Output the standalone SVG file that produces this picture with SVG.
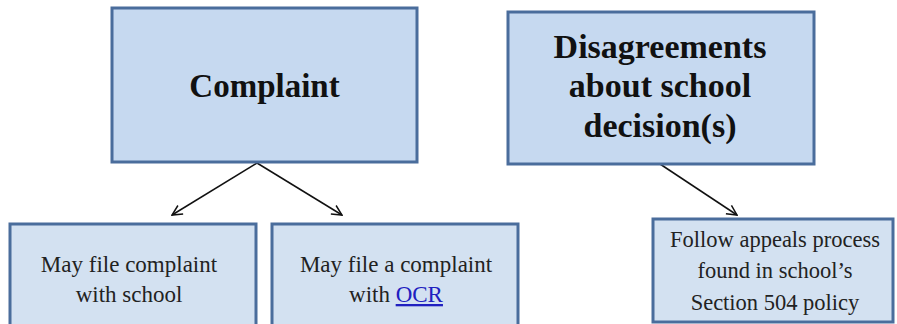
<svg xmlns="http://www.w3.org/2000/svg" width="897" height="324" viewBox="0 0 897 324">
<defs>
<style>
.top{fill:#c6d9f0;stroke:#4a6d9c;stroke-width:3}
.low{fill:#d3e1f1;stroke:#4a6d9c;stroke-width:3}
.h{font-family:"Liberation Serif",serif;font-weight:bold;font-size:33px;fill:#111;text-anchor:middle}
.b{font-family:"Liberation Serif",serif;font-size:23px;fill:#222;text-anchor:middle}
.lnk{fill:#2020c0;text-decoration:underline}
.c{stroke:#111;stroke-width:1.5;fill:none;marker-end:url(#ah)}
</style>
<marker id="ah" viewBox="0 0 12 12" refX="11" refY="6" markerWidth="12" markerHeight="12" markerUnits="userSpaceOnUse" orient="auto">
<path d="M1,1 L11,6 L1,11" fill="none" stroke="#111" stroke-width="1.5"/>
</marker>
</defs>
<g id="connectors">
<line class="c" x1="257" y1="163" x2="172" y2="215"/>
<line class="c" x1="257" y1="163" x2="342" y2="215"/>
<line class="c" x1="660" y1="164" x2="737" y2="215"/>
</g>
<g id="complaint">
<rect class="top" x="112" y="8" width="305" height="154"/>
<text class="h" x="264.5" y="97">Complaint</text>
</g>
<g id="disagreements">
<rect class="top" x="508" y="12" width="306" height="152"/>
<text class="h" x="660" y="58" style="font-size:34px">Disagreements</text>
<text class="h" x="660" y="97" style="font-size:34px">about school</text>
<text class="h" x="660" y="137" style="font-size:34px">decision(s)</text>
</g>
<g id="file-school">
<rect class="low" x="10" y="224" width="246" height="110"/>
<text class="b" x="129" y="272">May file complaint</text>
<text class="b" x="129" y="302">with school</text>
</g>
<g id="file-ocr">
<rect class="low" x="272" y="224" width="246" height="110"/>
<text class="b" x="396" y="272">May file a complaint</text>
<text class="b" x="396" y="302">with <tspan class="lnk">OCR</tspan></text>
</g>
<g id="appeals">
<rect class="low" x="653" y="219" width="240" height="103"/>
<text class="b" x="775" y="247" style="font-size:22.5px">Follow appeals process</text>
<text class="b" x="775" y="278" style="font-size:22.5px">found in school’s</text>
<text class="b" x="775" y="310" style="font-size:22.5px">Section 504 policy</text>
</g>
</svg>
